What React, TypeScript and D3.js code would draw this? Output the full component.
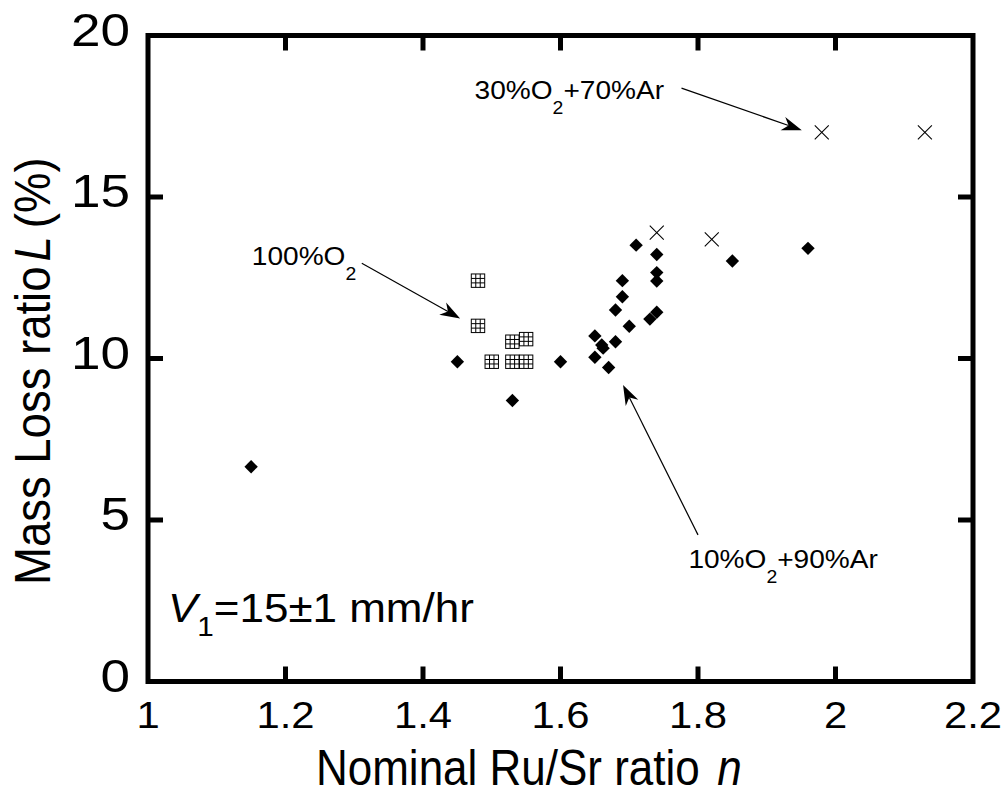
import React from 'react';
import { scaleLinear } from 'd3';

// n (Ru/Sr) and L (%)
const arO2_10_n = [1.15, 1.45, 1.53, 1.6, 1.65, 1.66, 1.662, 1.65, 1.67, 1.68, 1.68, 1.69, 1.69, 1.7, 1.71, 1.74, 1.74, 1.74, 1.74, 1.73, 1.85, 1.96];
const arO2_10_L = [6.65, 9.9, 8.7, 9.9, 10.7, 10.42, 10.32, 10.04, 9.72, 10.52, 11.5, 11.91, 12.41, 11.0, 13.51, 13.22, 12.66, 12.4, 11.43, 11.22, 13.02, 13.41];

const arO2_30_n = [1.74, 1.82, 1.98, 2.13];
const arO2_30_L = [13.9, 13.69, 17.0, 17.0];

const pureO2_n = [1.48, 1.48, 1.5, 1.53, 1.55, 1.53, 1.55];
const pureO2_L = [12.41, 11.01, 9.9, 10.52, 10.6, 9.9, 9.9];

const xTicks = [1, 1.2, 1.4, 1.6, 1.8, 2, 2.2];
const xTickLabels = ['1', '1.2', '1.4', '1.6', '1.8', '2', '2.2'];
const yTicks = [0, 5, 10, 15, 20];
const yTickLabels = ['0', '5', '10', '15', '20'];

// label anchor + arrow (from -> tip) in data units
const notes = [
  { pre: '100%O', post: '', at: [1.151, 12.9], from: [1.311, 12.95], to: [1.454, 11.24] },
  { pre: '30%O', post: '+70%Ar', at: [1.475, 18.02], from: [1.776, 18.37], to: [1.951, 17.07] },
  { pre: '10%O', post: '+90%Ar', at: [1.786, 3.5], from: [1.8, 4.54], to: [1.691, 9.18] },
];

const W = 1008;
const H = 795;
const FONT = '"Liberation Sans", Arial, Helvetica, sans-serif';

const x = scaleLinear().domain([1, 2.2]).range([148, 973]);
const y = scaleLinear().domain([0, 20]).range([681.5, 35.5]);

const S = 6.7; // marker half size

const Arrow = ({ from, to }) => {
  const x0 = x(from[0]), y0 = y(from[1]);
  const x1 = x(to[0]), y1 = y(to[1]);
  const a = Math.atan2(y1 - y0, x1 - x0);
  const len = 20, hw = 7, notch = 14;
  const ux = Math.cos(a), uy = Math.sin(a);
  const px = -uy, py = ux;
  const bx = x1 - ux * len, by = y1 - uy * len;
  const nx = x1 - ux * notch, ny = y1 - uy * notch;
  const head = `M${x1},${y1} L${bx + px * hw},${by + py * hw} L${nx},${ny} L${bx - px * hw},${by - py * hw} Z`;
  return (
    <g>
      <line x1={x0} y1={y0} x2={nx} y2={ny} stroke="#000" strokeWidth={1.2} />
      <path d={head} fill="#000" />
    </g>
  );
};

const App = () => {
  const left = x(1), right = x(2.2), top = y(20), bottom = y(0);
  const tl = 15;

  return (
    <svg width={W} height={H} style={{ position: 'absolute', left: 0, top: 0, background: '#fff' }} fontFamily={FONT}>
      <rect x={0} y={0} width={W} height={H} fill="#fff" />

      {/* ticks, all four sides, pointing in */}
      {xTicks.slice(1, -1).map(t => (
        <g key={'xt' + t}>
          <line x1={x(t)} x2={x(t)} y1={bottom} y2={bottom - tl} stroke="#000" strokeWidth={5} />
          <line x1={x(t)} x2={x(t)} y1={top} y2={top + tl} stroke="#000" strokeWidth={5} />
        </g>
      ))}
      {yTicks.slice(1, -1).map(t => (
        <g key={'yt' + t}>
          <line x1={left} x2={left + tl} y1={y(t)} y2={y(t)} stroke="#000" strokeWidth={5} />
          <line x1={right} x2={right - tl} y1={y(t)} y2={y(t)} stroke="#000" strokeWidth={5} />
        </g>
      ))}
      <rect x={left} y={top} width={right - left} height={bottom - top} fill="none" stroke="#000" strokeWidth={5} />

      {/* tick labels */}
      {xTicks.map((t, i) => (
        <text key={'xl' + t} transform={`translate(${x(t)},728) scale(1.13,1)`} textAnchor="middle" fontSize={37}>
          {xTickLabels[i]}
        </text>
      ))}
      {yTicks.map((t, i) => (
        <text key={'yl' + t} transform={`translate(130,${y(t) + 10}) scale(1.13,1)`} textAnchor="end" fontSize={47}>
          {yTickLabels[i]}
        </text>
      ))}

      {/* axis titles */}
      <text transform="translate(316,785) scale(0.88,1)" fontSize={50}>
        Nominal Ru/Sr ratio <tspan fontStyle="italic" dx={6}>n</tspan>
      </text>
      <text transform="translate(50,585) rotate(-90) scale(1,1.1)" fontSize={45.5}>
        Mass Loss ratio<tspan fontStyle="italic" dx={5}>L</tspan>
        <tspan dx={8}>(%)</tspan>
      </text>

      {/* 10% O2 + 90% Ar : filled diamonds */}
      {arO2_10_n.map((n, i) => {
        const cx = x(n), cy = y(arO2_10_L[i]);
        return <path key={'d' + i} d={`M${cx},${cy - S} L${cx + S},${cy} L${cx},${cy + S} L${cx - S},${cy} Z`} fill="#000" />;
      })}

      {/* 100% O2 : gridded squares */}
      {pureO2_n.map((n, i) => {
        const cx = x(n), cy = y(pureO2_L[i]);
        const s = S, g = (2 * s) / 3;
        return (
          <g key={'s' + i} stroke="#000" strokeWidth={1} fill="#fff">
            <rect x={cx - s} y={cy - s} width={2 * s} height={2 * s} />
            <line x1={cx - s + g} x2={cx - s + g} y1={cy - s} y2={cy + s} />
            <line x1={cx - s + 2 * g} x2={cx - s + 2 * g} y1={cy - s} y2={cy + s} />
            <line y1={cy - s + g} y2={cy - s + g} x1={cx - s} x2={cx + s} />
            <line y1={cy - s + 2 * g} y2={cy - s + 2 * g} x1={cx - s} x2={cx + s} />
          </g>
        );
      })}

      {/* 30% O2 + 70% Ar : crosses */}
      {arO2_30_n.map((n, i) => {
        const cx = x(n), cy = y(arO2_30_L[i]);
        const s = 7;
        return (
          <g key={'c' + i} stroke="#000" strokeWidth={1.1}>
            <line x1={cx - s} y1={cy - s} x2={cx + s} y2={cy + s} />
            <line x1={cx - s} y1={cy + s} x2={cx + s} y2={cy - s} />
          </g>
        );
      })}

      {/* annotations */}
      {notes.map((d, i) => (
        <g key={'n' + i}>
          <text transform={`translate(${x(d.at[0])},${y(d.at[1])}) scale(1.08,1)`} fontSize={26}>
            {d.pre}
            <tspan fontSize={18} dy={15}>2</tspan>
            {d.post && <tspan dy={-15}>{d.post}</tspan>}
          </text>
          <Arrow from={d.from} to={d.to} />
        </g>
      ))}

      <text transform={`translate(${x(1.029)},${y(1.84)}) scale(1.1,1)`} fontSize={40}>
        <tspan fontStyle="italic">V</tspan>
        <tspan fontSize={27} dy={14}>1</tspan>
        <tspan dy={-14}>=15±1 mm/hr</tspan>
      </text>
    </svg>
  );
};

export default App;
